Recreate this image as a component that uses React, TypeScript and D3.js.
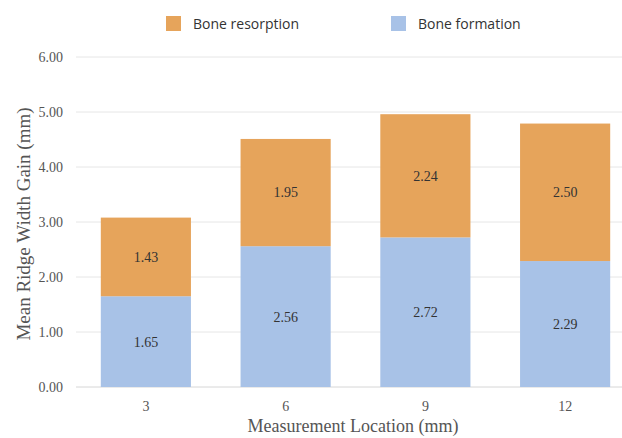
import * as d3 from "d3"
import React, { useEffect, useRef } from "react"

const categories = ["3", "6", "9", "12"]
const formation = [1.65, 2.56, 2.72, 2.29]
const resorption = [1.43, 1.95, 2.24, 2.5]
const yTicks = [0, 1, 2, 3, 4, 5, 6]

const BLUE = "#a8c2e7"
const ORANGE = "#e6a45b"

const App = () => {
    const svgRef = useRef<SVGSVGElement>(null)

    useEffect(() => {
        const width = 622
        const height = 438

        const svg = d3.select(svgRef.current)
            .attr("width", width)
            .attr("height", height)
        svg.selectAll("*").remove()

        // x band, bars are cut a bit on the right like the source image
        const x = d3.scaleBand()
            .domain(categories)
            .range([76, 635])
            .paddingInner(0.355)
            .paddingOuter(0.1775)

        const y = d3.scaleLinear()
            .domain([0, 6])
            .range([387, 57])

        const serif = "'Liberation Serif', 'Times New Roman', serif"

        // grid
        svg.append("g")
            .selectAll("line")
            .data(yTicks)
            .join("line")
            .attr("x1", 76)
            .attr("x2", width)
            .attr("y1", d => y(d))
            .attr("y2", d => y(d))
            .attr("stroke", d => d === 0 ? "#d6d6d6" : "#e6e6e6")
            .attr("stroke-width", 1)

        // y tick labels
        svg.append("g")
            .selectAll("text")
            .data(yTicks)
            .join("text")
            .attr("x", 63)
            .attr("y", d => y(d))
            .attr("dy", "0.35em")
            .attr("text-anchor", "end")
            .attr("font-family", serif)
            .attr("font-size", 14)
            .attr("fill", "#555")
            .text(d => d.toFixed(2))

        const rows = categories.map((c, i) => ({ c, f: formation[i], r: resorption[i] }))

        const g = svg.append("g")
        // formation (bottom)
        g.selectAll(".f")
            .data(rows)
            .join("rect")
            .attr("class", "f")
            .attr("x", d => x(d.c))
            .attr("width", x.bandwidth())
            .attr("y", d => y(d.f))
            .attr("height", d => y(0) - y(d.f))
            .attr("fill", BLUE)
        // resorption (top)
        g.selectAll(".r")
            .data(rows)
            .join("rect")
            .attr("class", "r")
            .attr("x", d => x(d.c))
            .attr("width", x.bandwidth())
            .attr("y", d => y(d.f + d.r))
            .attr("height", d => y(d.f) - y(d.f + d.r))
            .attr("fill", ORANGE)

        // value labels
        const lab = (sel, yv, tv) => sel
            .attr("x", d => x(d.c) + x.bandwidth() / 2)
            .attr("y", yv)
            .attr("dy", "0.35em")
            .attr("text-anchor", "middle")
            .attr("font-family", serif)
            .attr("font-size", 14)
            .attr("fill", "#333")
            .text(tv)
        g.selectAll(".fl").data(rows).join("text").attr("class", "fl")
            .call(lab, d => y(d.f / 2), d => d.f.toFixed(2))
        g.selectAll(".rl").data(rows).join("text").attr("class", "rl")
            .call(lab, d => y(d.f + d.r / 2), d => d.r.toFixed(2))

        // x tick labels
        svg.append("g")
            .selectAll("text")
            .data(categories)
            .join("text")
            .attr("x", d => x(d) + x.bandwidth() / 2)
            .attr("y", 411)
            .attr("text-anchor", "middle")
            .attr("font-family", serif)
            .attr("font-size", 14)
            .attr("fill", "#555")
            .text(d => d)

        // axis titles
        svg.append("text")
            .attr("x", 353)
            .attr("y", 432)
            .attr("text-anchor", "middle")
            .attr("font-family", serif)
            .attr("font-size", 18)
            .attr("fill", "#555")
            .text("Measurement Location (mm)")

        svg.append("text")
            .attr("transform", `translate(30, 224) rotate(-90)`)
            .attr("text-anchor", "middle")
            .attr("font-family", serif)
            .attr("font-size", 19)
            .attr("fill", "#555")
            .text("Mean Ridge Width Gain (mm)")

        // legend
        const legend = [
            { name: "Bone resorption", color: ORANGE, x: 166 },
            { name: "Bone formation", color: BLUE, x: 391 },
        ]
        const lg = svg.append("g")
            .selectAll("g")
            .data(legend)
            .join("g")
            .attr("transform", d => `translate(${d.x}, 16)`)
        lg.append("rect")
            .attr("width", 15)
            .attr("height", 15)
            .attr("fill", d => d.color)
        lg.append("text")
            .attr("x", 27)
            .attr("y", 12.5)
            .attr("font-family", "'Open Sans', sans-serif")
            .attr("font-size", 14)
            .attr("fill", "#333")
            .text(d => d.name)
    }, [])

    return <svg ref={svgRef} style={{ position: "absolute", left: 0, top: 0 }}></svg>
}

export default App
